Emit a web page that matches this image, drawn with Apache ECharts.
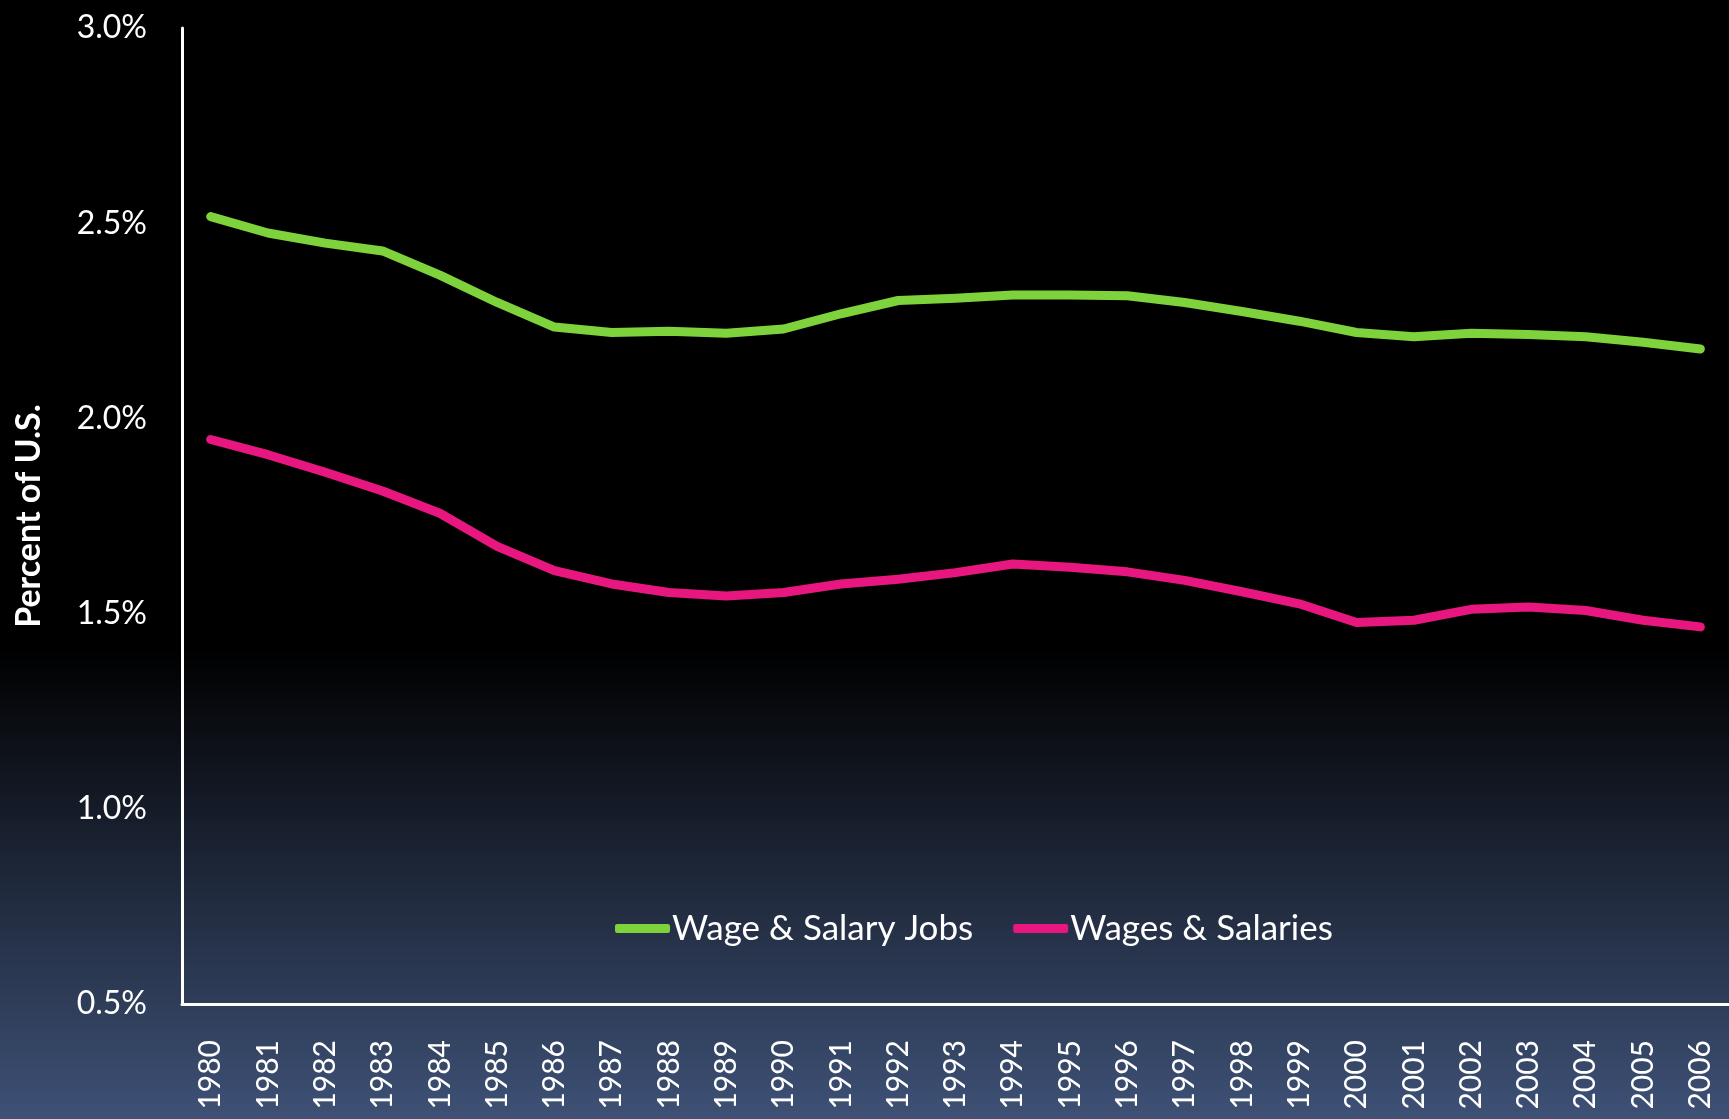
<!DOCTYPE html>
<html>
<head>
<meta charset="utf-8">
<script src="https://cdn.jsdelivr.net/npm/echarts@6/dist/echarts.min.js"></script>
<style>
  html, body { margin: 0; padding: 0; background: #000; }
  #chart { width: 1729px; height: 1119px; }
</style>
</head>
<body>
<div id="chart"></div>
<script>
const years = ['1980', '1981', '1982', '1983', '1984', '1985', '1986', '1987', '1988', '1989',
  '1990', '1991', '1992', '1993', '1994', '1995', '1996', '1997', '1998', '1999',
  '2000', '2001', '2002', '2003', '2004', '2005', '2006']

// percent of U.S.
const salaryJobs = [2.517, 2.475, 2.449, 2.429, 2.367, 2.297, 2.234, 2.220, 2.223, 2.218,
  2.229, 2.268, 2.302, 2.308, 2.316, 2.316, 2.314, 2.297, 2.274, 2.249,
  2.220, 2.209, 2.218, 2.215, 2.209, 2.195, 2.178]
const wagesSalaries = [1.946, 1.907, 1.862, 1.814, 1.757, 1.672, 1.610, 1.576, 1.554, 1.545,
  1.554, 1.576, 1.588, 1.605, 1.627, 1.619, 1.607, 1.585, 1.556, 1.525,
  1.477, 1.483, 1.511, 1.517, 1.508, 1.483, 1.466]

const seriesNames = ['Wage & Salary Jobs', 'Wages & Salaries']
const seriesColors = ['#7ed23b', '#e8177f']

const font = 'Lato, "Open Sans", sans-serif'

const chart = echarts.init(document.getElementById('chart'))

function lineSeries(name, data, color) {
  return {
    name,
    type: 'line',
    data,
    symbol: 'none',
    smooth: false,
    color,
    lineStyle: { width: 9, color, cap: 'round', join: 'round' },
  }
}

chart.setOption({
  animation: false,
  backgroundColor: new echarts.graphic.LinearGradient(0, 0, 0, 1, [
    { offset: 0, color: '#000000' },
    { offset: 0.58, color: '#000000' },
    { offset: 1, color: '#3e5176' },
  ]),
  grid: { left: 182, right: 0, top: 28, bottom: 115 },
  legend: {
    left: 610,
    top: 906,
    itemWidth: 55,
    itemHeight: 9,
    itemGap: 40,
    icon: 'roundRect',
    textStyle: { color: '#fff', fontSize: 35, fontFamily: font, padding: [0, 0, 0, -3] },
    data: seriesNames,
  },
  xAxis: {
    type: 'category',
    data: years,
    boundaryGap: true,
    axisLine: { lineStyle: { color: '#fff', width: 3 } },
    axisTick: { show: false },
    axisLabel: { rotate: 90, color: '#fff', fontSize: 30, fontFamily: font, margin: 36, interval: 0 },
  },
  yAxis: {
    type: 'value',
    min: 0.5,
    max: 3.0,
    interval: 0.5,
    name: 'Percent of U.S.',
    nameLocation: 'middle',
    nameGap: 136,
    nameTextStyle: { color: '#fff', fontSize: 34, fontWeight: 'bold', fontFamily: font },
    axisLine: { show: true, lineStyle: { color: '#fff', width: 3 } },
    axisTick: { show: false },
    splitLine: { show: false },
    axisLabel: {
      color: '#fff',
      fontSize: 32,
      fontFamily: font,
      margin: 35,
      formatter: (v) => v.toFixed(1) + '%',
    },
  },
  series: [
    lineSeries(seriesNames[0], salaryJobs, seriesColors[0]),
    lineSeries(seriesNames[1], wagesSalaries, seriesColors[1]),
  ],
})
</script>
</body>
</html>
